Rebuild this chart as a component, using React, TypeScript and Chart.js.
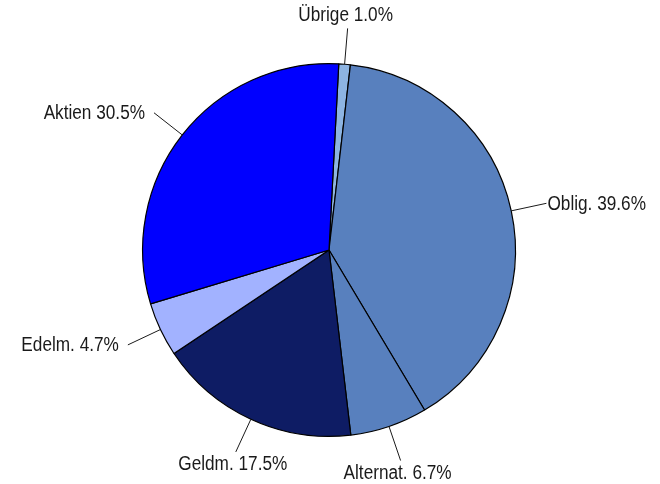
import React, { useEffect, useRef } from "react";
import { Chart, registerables } from "chart.js";

Chart.register(...registerables);

const categories = ["Übrige", "Oblig.", "Alternat.", "Geldm.", "Edelm.", "Aktien"];
const shares = [1.0, 39.6, 6.7, 17.5, 4.7, 30.5];
const colors = ["#8DB4E2", "#5880BE", "#5880BE", "#0E1C64", "#A2B2FF", "#0000FF"];

const FONT = '"Liberation Sans", Arial, sans-serif';
const SQUEEZE = 0.86;

const labelPlugin = {
  id: "outerLabels",
  afterDraw(chart: any) {
    const ctx = chart.ctx;
    const meta = chart.getDatasetMeta(0);
    ctx.save();
    ctx.font = `20px ${FONT}`;
    ctx.fillStyle = "#1a1a1a";
    ctx.strokeStyle = "#1a1a1a";
    ctx.lineWidth = 1;
    const draw = (text: string, tx: number, ty: number) => {
      ctx.save();
      ctx.translate(tx, ty);
      ctx.scale(SQUEEZE, 1);
      ctx.fillText(text, 0, 0);
      ctx.restore();
    };
    meta.data.forEach((arc: any, i: number) => {
      const { x, y, startAngle, endAngle, outerRadius } = arc.getProps(
        ["x", "y", "startAngle", "endAngle", "outerRadius"],
        true
      );
      const a = (startAngle + endAngle) / 2;
      const r0 = outerRadius;
      const r1 = outerRadius + 36;
      const x0 = x + Math.cos(a) * r0;
      const y0 = y + Math.sin(a) * r0;
      const x1 = x + Math.cos(a) * r1;
      const y1 = y + Math.sin(a) * r1;
      ctx.beginPath();
      ctx.moveTo(x0, y0);
      ctx.lineTo(x1, y1);
      ctx.stroke();
      const text = `${categories[i]} ${shares[i].toFixed(1)}%`;
      const c = Math.cos(a);
      const s = Math.sin(a);
      if (Math.abs(c) > 0.6) {
        ctx.textAlign = c > 0 ? "left" : "right";
        ctx.textBaseline = "middle";
        draw(text, x1 + (c > 0 ? 1 : -9), y1 + 1);
      } else {
        ctx.textAlign = "center";
        if (s > 0) {
          ctx.textBaseline = "top";
          draw(text, x1 - 3, y1 + 3);
        } else {
          ctx.textBaseline = "bottom";
          draw(text, x1 - 2, y1 - 3);
        }
      }
    });
    ctx.restore();
  },
};

export default function App() {
  const ref = useRef<HTMLCanvasElement>(null);
  useEffect(() => {
    document.body.style.margin = "0";
    const chart = new Chart(ref.current!, {
      type: "pie",
      data: {
        labels: categories,
        datasets: [
          {
            data: shares,
            backgroundColor: colors,
            borderColor: "#000000",
            borderWidth: 1.2,
          },
        ],
      },
      options: {
        responsive: false,
        animation: false,
        rotation: 3,
        layout: { padding: { top: 63, bottom: 47, left: 142, right: 144 } },
        plugins: {
          legend: { display: false },
          tooltip: { enabled: false },
        },
      },
      plugins: [labelPlugin],
    });
    return () => chart.destroy();
  }, []);
  return <canvas ref={ref} width={660} height={484} style={{ display: "block" }} />;
}
